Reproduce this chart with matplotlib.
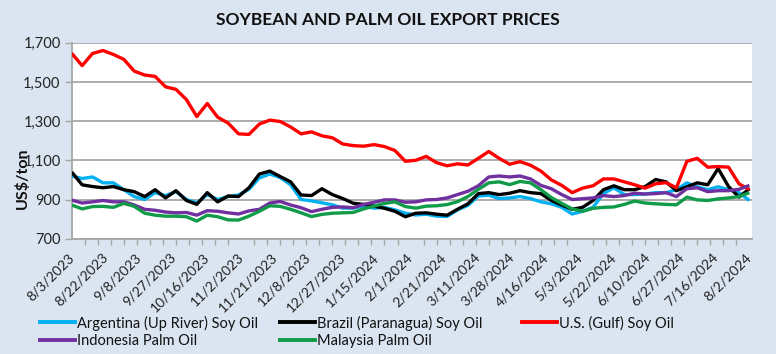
import numpy as np
import matplotlib
matplotlib.use("Agg")
import matplotlib.pyplot as plt
from matplotlib.lines import Line2D

plt.rcParams['font.family'] = ['Lato', 'DejaVu Sans']

# ---------------- data (sampled every 4 trading days, 8/3/2023 .. 8/2/2024) ----------------
date_labels = ["8/3/2023", "8/22/2023", "9/8/2023", "9/27/2023", "10/16/2023", "11/2/2023",
               "11/21/2023", "12/8/2023", "12/27/2023", "1/15/2024", "2/1/2024", "2/21/2024",
               "3/11/2024", "3/28/2024", "4/16/2024", "5/3/2024", "5/22/2024", "6/10/2024",
               "6/27/2024", "7/16/2024", "8/2/2024"]

series_names = ["Argentina (Up River) Soy Oil", "Brazil (Paranagua) Soy Oil", "U.S. (Gulf) Soy Oil",
                "Indonesia Palm Oil", "Malaysia Palm Oil"]

argentina = [1020, 1007, 1015, 985, 985, 950, 915, 900, 935, 920, 940, 900, 882, 925, 900, 915, 923,
             952, 1010, 1030, 1012, 975, 900, 893, 883, 873, 856, 856, 866, 856, 860, 847, 830, 821,
             825, 815, 813, 847, 870, 918, 922, 905, 908, 915, 905, 888, 878, 860, 826, 840, 860, 930,
             960, 925, 925, 928, 935, 935, 950, 985, 965, 950, 965, 950, 935, 895]

brazil = [1040, 975, 966, 960, 966, 950, 940, 915, 950, 908, 945, 895, 875, 935, 888, 918, 915, 960,
          1030, 1045, 1017, 990, 923, 920, 955, 925, 905, 881, 875, 866, 855, 840, 812, 830, 832, 825,
          820, 850, 878, 930, 935, 925, 932, 945, 935, 930, 895, 872, 850, 860, 895, 950, 970, 950,
          950, 966, 1002, 990, 945, 965, 985, 975, 1058, 966, 912, 955]

us_gulf = [1646, 1583, 1645, 1660, 1640, 1615, 1555, 1535, 1528, 1475, 1462, 1410, 1323, 1390, 1320,
           1290, 1235, 1232, 1285, 1305, 1298, 1270, 1235, 1245, 1225, 1215, 1183, 1175, 1172, 1180,
           1170, 1150, 1095, 1100, 1120, 1088, 1072, 1082, 1076, 1110, 1145, 1110, 1080, 1093, 1075,
           1045, 1000, 972, 935, 958, 970, 1005, 1005, 990, 975, 958, 980, 986, 960, 1095, 1110, 1065,
           1068, 1065, 980, 950]

indonesia = [897, 882, 888, 895, 888, 888, 872, 850, 845, 836, 832, 834, 820, 843, 840, 832, 826, 842,
             850, 882, 890, 872, 858, 838, 850, 860, 862, 858, 875, 886, 898, 898, 886, 888, 898, 900,
             908, 925, 942, 970, 1015, 1020, 1015, 1020, 1005, 972, 955, 925, 900, 904, 908, 920, 915,
             920, 932, 928, 930, 935, 915, 955, 960, 940, 945, 945, 952, 972]

malaysia = [872, 852, 864, 865, 860, 880, 865, 830, 820, 815, 815, 812, 790, 820, 812, 796, 795, 815,
            840, 868, 865, 850, 832, 813, 824, 830, 832, 834, 852, 866, 880, 888, 864, 856, 866, 868,
            874, 889, 915, 952, 985, 990, 976, 992, 985, 950, 910, 880, 852, 840, 855, 860, 862, 875,
            892, 882, 878, 875, 873, 912, 898, 895, 903, 908, 915, 935]

colors = ["#00b0f0", "#000000", "#ff0000", "#7030a0", "#109b48"]

# ---------------- figure ----------------
W, H = 776, 354
fig = plt.figure(figsize=(W / 100, H / 100), dpi=100)
bg = "#dbe5f1"
fig.patch.set_facecolor(bg)

left, right, top, bottom = 71.7, 751.5, 42.7, 238.7
ax = fig.add_axes([left / W, 1 - bottom / H, (right - left) / W, (bottom - top) / H])
ax.set_facecolor("white")

n_days = 261
step = 4
x = np.arange(0, n_days, step)

all_series = [argentina, brazil, us_gulf, indonesia, malaysia]
for vals, c, name in zip(all_series, colors, series_names):
    ax.plot(x, vals, color=c, lw=2.4, solid_joinstyle="round", solid_capstyle="butt", label=name, zorder=3)

ax.set_xlim(0, 260.8)
ax.set_ylim(700, 1700)

# y axis
ax.set_yticks(np.arange(700, 1701, 200))
ax.set_yticklabels([f"{v:,}" for v in range(700, 1701, 200)], fontsize=10.5, color="#222222")
ax.yaxis.grid(True, color="#a6a6a6", lw=1.3, zorder=0)
ax.set_axisbelow(True)

# x axis
label_pos = np.arange(0, n_days, 13)
ax.set_xticks(label_pos)
ax.set_xticklabels(date_labels, rotation=45, ha="right", va="center", rotation_mode="anchor",
                   fontsize=10, color="#222222")
ax.set_xticks(np.arange(0, n_days, 5), minor=True)
ax.tick_params(axis="x", which="major", length=0, pad=12)
ax.tick_params(axis="x", which="minor", length=4, width=1, color="#a6a6a6", direction="out")
ax.tick_params(axis="y", which="major", length=5, width=1, color="#a6a6a6", pad=3)

for s in ["top", "right"]:
    ax.spines[s].set_visible(False)
for s in ["left", "bottom"]:
    ax.spines[s].set_color("#a6a6a6")
    ax.spines[s].set_linewidth(1.3)

# title and y label
fig.text(0.5, 1 - 20 / H, "SOYBEAN AND PALM OIL EXPORT PRICES", ha="center", va="center",
         fontsize=12.5, fontweight="bold", color="#111111")
fig.text(22.5 / W, 1 - 178 / H, "US$/ton", rotation=90, ha="center", va="center",
         fontsize=11.5, fontweight="bold", color="#111111", zorder=5)

# legend: three columns placed at fixed positions
handles = [Line2D([0], [0], color=c, lw=2.8) for c in colors]
cols = [([0, 3], 40), ([1, 4], 280), ([2], 522)]
for idxs, xpx in cols:
    leg = fig.legend([handles[i] for i in idxs], [series_names[i] for i in idxs],
                     loc="upper left", bbox_to_anchor=(xpx / W, 1 - 315.5 / H),
                     frameon=False, fontsize=10.5, handlelength=2.4, handletextpad=0.15,
                     borderpad=0, borderaxespad=0, labelspacing=0.25)
    for t in leg.get_texts():
        t.set_color("#111111")

fig.savefig("out.png", dpi=100, facecolor=bg)
